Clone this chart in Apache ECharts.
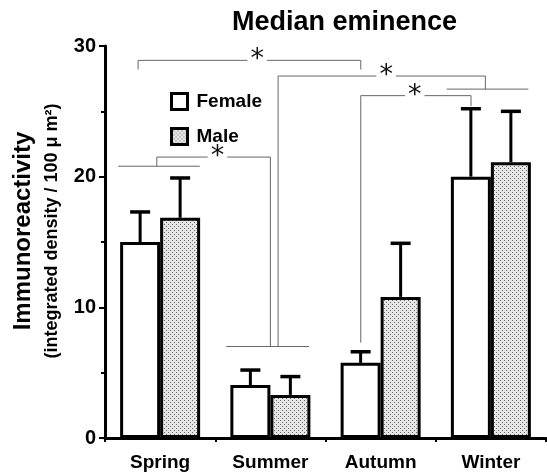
<!DOCTYPE html>
<html>
<head>
<meta charset="utf-8">
<title>Median eminence</title>
<script src="https://cdn.jsdelivr.net/npm/echarts@6/dist/echarts.min.js"></script>
<style>
  html, body { margin: 0; padding: 0; background: #fff; }
  #main { width: 547px; height: 472px; }
</style>
</head>
<body>
<div id="main"></div>
<script>
// seasons on the x axis
var seasons = ['Spring', 'Summer', 'Autumn', 'Winter'];
// means and top of error bar (mean + SE)
var femaleMean = [15.0, 4.05, 5.75, 20.0];
var femaleTop  = [17.3, 5.2, 6.6, 25.2];
var maleMean   = [16.85, 3.3, 10.8, 21.1];
var maleTop    = [19.9, 4.7, 14.9, 25.0];
var yTicks = [0, 10, 20, 30];

// significance brackets, in (category position, value) units
var groupLines = [
  [[-0.38, 20.8], [0.36, 20.8]],
  [[0.6, 7.0], [1.35, 7.0]],
  [[2.6, 26.7], [3.34, 26.7]]
];
var brackets = [
  [[-0.2, 28.2], [-0.2, 28.9], [1.82, 28.9], [1.82, 28.2]],
  [[-0.03, 20.8], [-0.03, 21.5], [1.0, 21.5], [1.0, 7.0]],
  [[1.07, 7.0], [1.07, 27.7], [2.95, 27.7], [2.95, 26.7]],
  [[1.82, 7.3], [1.82, 26.2], [2.82, 26.2], [2.82, 25.4]]
];
var stars = [[0.88, 28.9], [0.52, 21.5], [2.05, 27.7], [2.31, 26.2]];

var BAR_W = 40;
var FONT = '"Liberation Sans", Arial, Helvetica, sans-serif';

// dotted fill for the male bars
function dots() {
  var c = document.createElement('canvas');
  c.width = 4; c.height = 4;
  var g = c.getContext('2d');
  g.fillStyle = '#e6e6e6';
  g.fillRect(0, 0, 4, 4);
  g.fillStyle = '#666';
  g.fillRect(0, 0, 1, 1);
  g.fillRect(2, 2, 1, 1);
  return c;
}
var dotFill = { image: dots(), repeat: 'repeat' };

function errData(mean, top) {
  var out = [];
  for (var i = 0; i < mean.length; i++) out.push([i, mean[i], top[i]]);
  return out;
}

function errSeries(mean, top, side) {
  return {
    type: 'custom',
    xAxisIndex: 0,
    z: 5,
    silent: true,
    data: errData(mean, top),
    renderItem: function (params, api) {
      var lo = api.coord([api.value(0), api.value(1)]);
      var hi = api.coord([api.value(0), api.value(2)]);
      var x = lo[0] + side * BAR_W / 2;
      var st = { stroke: '#000', lineWidth: 3 };
      return {
        type: 'group',
        children: [
          { type: 'line', shape: { x1: x, y1: lo[1], x2: x, y2: hi[1] }, style: st },
          { type: 'line', shape: { x1: x - 10, y1: hi[1], x2: x + 10, y2: hi[1] }, style: { stroke: '#000', lineWidth: 3.5 } }
        ]
      };
    }
  };
}

var series = [
  {
    name: 'Female', type: 'bar', barWidth: BAR_W, barGap: '0%',
    data: femaleMean,
    itemStyle: { color: '#fff', borderColor: '#000', borderWidth: 3 }
  },
  {
    name: 'Male', type: 'bar', barWidth: BAR_W, barGap: '0%',
    data: maleMean,
    itemStyle: { color: dotFill, borderColor: '#000', borderWidth: 3 }
  },
  errSeries(femaleMean, femaleTop, -1),
  errSeries(maleMean, maleTop, 1)
];

groupLines.concat(brackets).forEach(function (pts) {
  series.push({
    type: 'line', xAxisIndex: 1, data: pts, symbol: 'none', silent: true,
    lineStyle: { color: '#666', width: 1 }, z: 3, animation: false
  });
});

series.push({
  type: 'custom', xAxisIndex: 1, z: 4, silent: true,
  data: stars,
  renderItem: function (params, api) {
    var p = api.coord([api.value(0), api.value(1)]);
    return {
      type: 'text',
      x: p[0], y: p[1],
      style: {
        text: '*', x: 0, y: 0, align: 'center', verticalAlign: 'middle',
        fill: '#111', font: '27px "DejaVu Sans", sans-serif',
        backgroundColor: '#fff', padding: [0, 3, -9, 3]
      }
    };
  }
});

var chart = echarts.init(document.getElementById('main'));
chart.setOption({
  animation: false,
  backgroundColor: '#fff',
  title: {
    text: 'Median eminence', left: 227, top: 4,
    textStyle: { fontFamily: FONT, fontSize: 27, fontWeight: 'bold', color: '#000' }
  },
  legend: {
    data: [
      { name: 'Female', itemStyle: { borderWidth: 3, borderColor: '#000' } },
      { name: 'Male', itemStyle: { borderWidth: 3, borderColor: '#000' } }
    ],
    orient: 'vertical', left: 165, top: 87,
    itemWidth: 16, itemHeight: 16, itemGap: 16, icon: 'rect',
    textStyle: { fontFamily: FONT, fontSize: 19, fontWeight: 'bold', color: '#000', padding: [0, 0, 0, 4] }
  },
  grid: { left: 105, right: 1, top: 46, bottom: 34 },
  xAxis: [
    {
      type: 'category', data: seasons,
      axisLine: { lineStyle: { color: '#000', width: 3 } },
      axisTick: { show: true, length: 4, interval: 0, lineStyle: { color: '#000', width: 2 } },
      axisLabel: { fontFamily: FONT, fontSize: 19, fontWeight: 'bold', color: '#000', margin: 15 }
    },
    { type: 'value', min: -0.5, max: 3.5, show: false }
  ],
  yAxis: {
    type: 'value', min: yTicks[0], max: yTicks[yTicks.length - 1], interval: 10,
    name: '{a|Immunoreactivity}\n{b|(integrated density / 100 \u03bc m\u00b2)}',
    nameLocation: 'middle', nameRotate: 90, nameGap: 42,
    nameTextStyle: {
      color: '#000', fontFamily: FONT, fontWeight: 'bold', padding: [0, 0, 0, 22],
      rich: {
        a: { fontFamily: FONT, fontSize: 24, fontWeight: 'bold', lineHeight: 36, color: '#000' },
        b: { fontFamily: FONT, fontSize: 18, fontWeight: 'bold', lineHeight: 22, color: '#000' }
      }
    },
    axisLine: { show: true, onZero: false, lineStyle: { color: '#000', width: 3 } },
    axisTick: { show: true, length: 6, lineStyle: { color: '#000', width: 2 } },
    minorTick: { show: true, splitNumber: 2, length: 4, lineStyle: { color: '#000', width: 2 } },
    splitLine: { show: false },
    axisLabel: { fontFamily: FONT, fontSize: 20, fontWeight: 'bold', color: '#000', margin: 9 }
  },
  series: series
});
</script>
</body>
</html>
